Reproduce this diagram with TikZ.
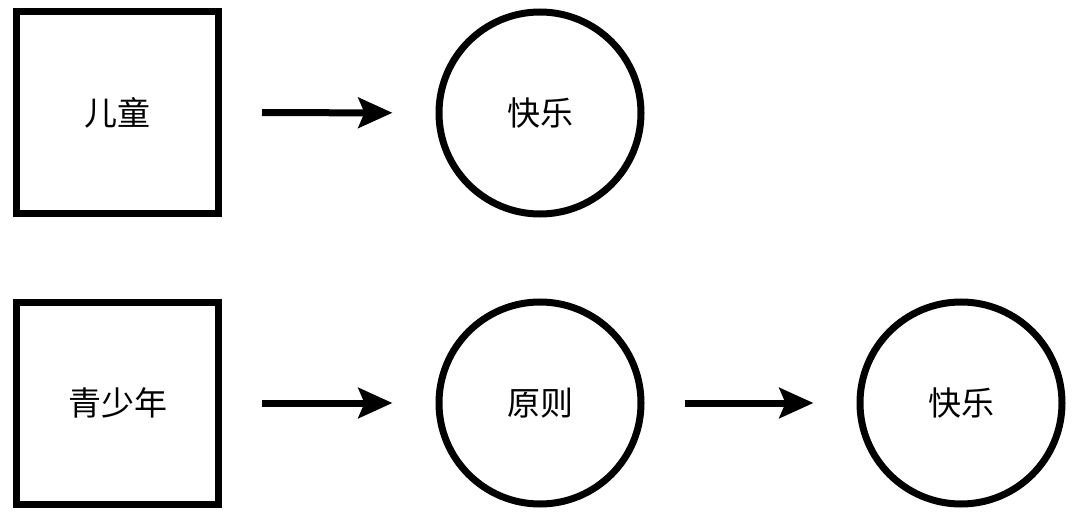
\documentclass[tikz,border=0pt]{standalone}
\usepackage{fontspec}
\setmainfont{Noto Sans CJK SC}
\usetikzlibrary{arrows.meta}
\begin{document}
\begin{tikzpicture}[x=1pt,y=-1pt,
  box/.style={draw,line width=7pt,minimum size=202pt,inner sep=0pt,font=\fontsize{33}{40}\selectfont},
  circ/.style={draw,circle,line width=7pt,minimum size=202pt,inner sep=0pt,font=\fontsize{33}{40}\selectfont},
  conn/.style={line width=7pt,-{Stealth[length=34pt,width=30pt,inset=6pt]},shorten <=40pt,shorten >=43pt}]
\useasboundingbox (0,0) rectangle (1080,516);
\node[box] (a) at (117.5,112.5) {儿童};
\node[circ] (b) at (540,113) {快乐};
\node[box] (c) at (117.5,403) {青少年};
\node[circ] (d) at (540,403) {原则};
\node[circ] (e) at (961,403) {快乐};
\draw[conn] (a) -- (b);
\draw[conn] (c) -- (d);
\draw[conn] (d) -- (e);
\end{tikzpicture}
\end{document}
